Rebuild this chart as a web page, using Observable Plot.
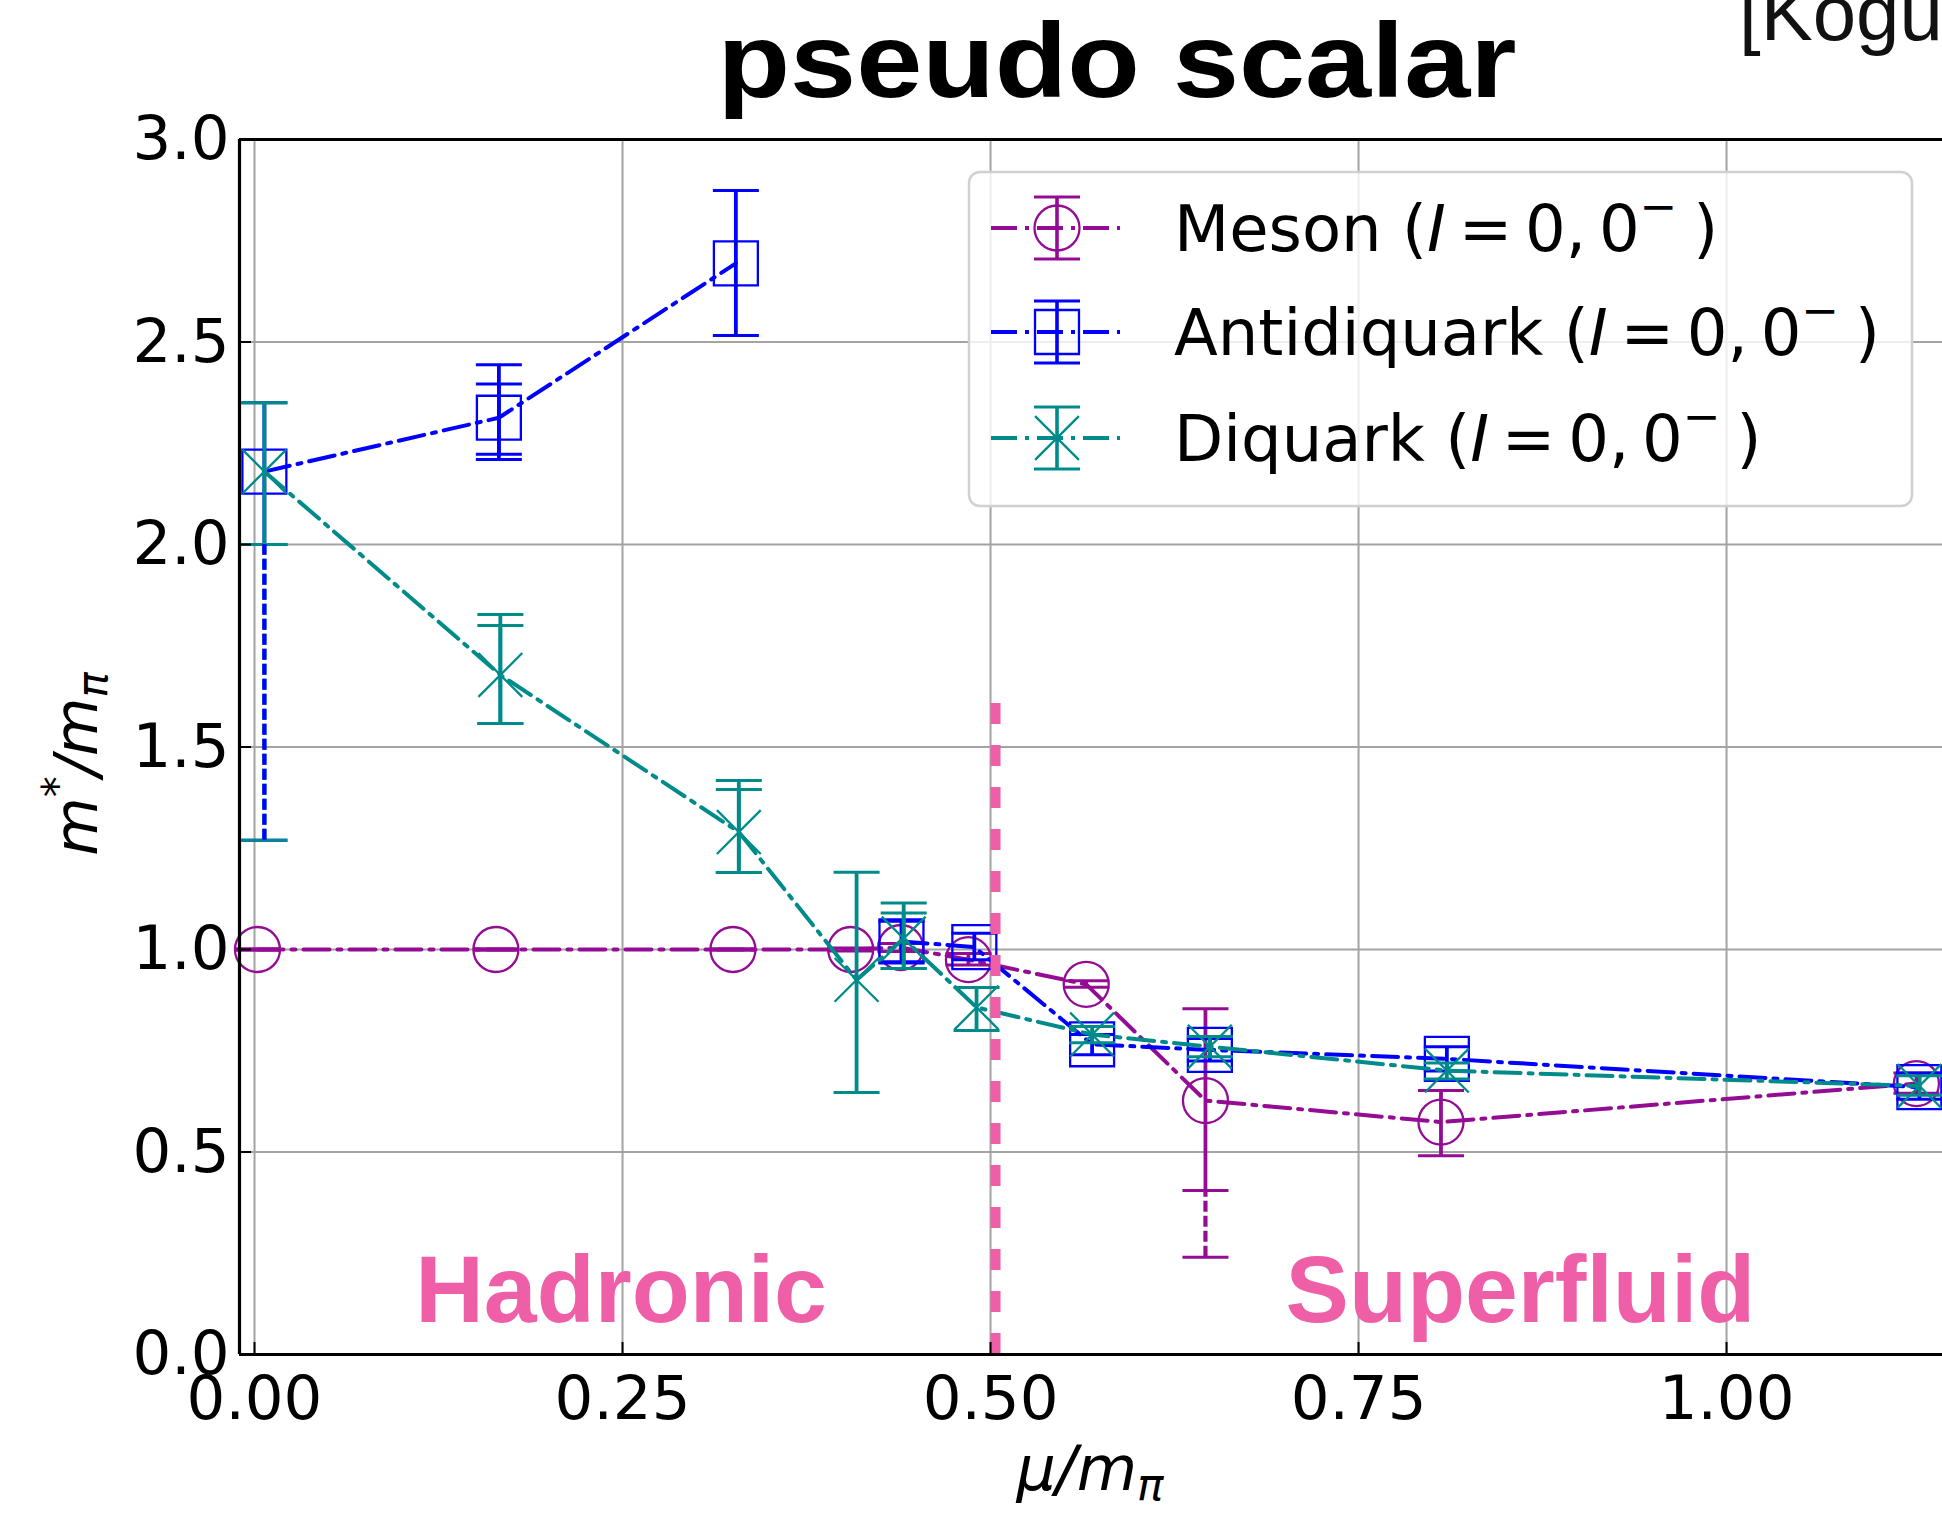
<!DOCTYPE html>
<html>
<head>
<meta charset="utf-8">
<script src="https://cdn.jsdelivr.net/npm/d3@7"></script>
<script src="https://cdn.jsdelivr.net/npm/@observablehq/plot@0.6"></script>
<style>
html, body { margin: 0; padding: 0; background: #fff; overflow: hidden; }
#wrap { position: relative; width: 1942px; height: 1513px; overflow: hidden; background: #fff; }
#wrap > svg { position: absolute; left: 0; top: 0; }
</style>
</head>
<body>
<div id="wrap"></div>
<script>
// ---------------- data ----------------
const xLimits = [-0.0102, 1.1467];
const yLimits = [0, 3];
const xTicks = [0, 0.25, 0.5, 0.75, 1.0];
const yTicks = [0, 0.5, 1.0, 1.5, 2.0, 2.5, 3.0];

// Meson (I=0, 0-)
const mesonMu    = [0.002, 0.164, 0.325, 0.405, 0.439, 0.485, 0.565, 0.646, 0.806, 1.129];
const mesonMass  = [1.000, 1.000, 1.000, 1.000, 1.005, 0.975, 0.914, 0.627, 0.574, 0.669];
const mesonLo    = [0.998, 0.998, 0.998, 0.996, 0.995, 0.962, 0.907, 0.405, 0.491, 0.645];
const mesonHi    = [1.002, 1.002, 1.002, 1.004, 1.015, 0.990, 0.923, 0.854, 0.652, 0.695];
const mesonLo2   = [null, null, null, null, null, null, null, null, null, null];
const mesonHi2   = [null, null, null, null, null, null, null, null, null, null];
const mesonSysLo = [null, null, null, null, null, null, null, 0.240, null, null];
const mesonSysHi = [null, null, null, null, null, null, null, 0.405, null, null];

// Antidiquark (I=0, 0-)
const antiMu    = [0.0067, 0.166, 0.327, 0.404, 0.4395, 0.489, 0.569, 0.649, 0.810, 1.131];
const antiMass  = [2.180, 2.313, 2.694, null, 1.020, 1.006, 0.766, 0.752, 0.730, 0.660];
const antiLo    = [2.000, 2.223, 2.516, null, 0.970, 0.975, 0.740, 0.725, 0.700, 0.630];
const antiHi    = [2.350, 2.396, 2.874, null, 1.070, 1.040, 0.790, 0.780, 0.760, 0.695];
const antiLo2   = [null, 2.210, null, null, null, null, null, null, null, null];
const antiHi2   = [null, 2.444, null, null, null, null, null, null, null, null];
const antiSysLo = [1.270, null, null, null, null, null, null, null, null, null];
const antiSysHi = [2.000, null, null, null, null, null, null, null, null, null];

// Diquark (I=0, 0-)
const diMu    = [0.0067, 0.167, 0.329, 0.409, 0.441, 0.4905, 0.569, 0.649, 0.810, 1.131];
const diMass  = [2.180, 1.678, 1.290, 0.925, 1.027, 0.857, 0.790, 0.760, 0.701, 0.663];
const diLo    = [2.000, 1.558, 1.190, 0.647, 0.953, 0.800, 0.770, 0.735, 0.680, 0.640];
const diHi    = [2.350, 1.800, 1.395, 1.191, 1.090, 0.906, 0.810, 0.785, 0.720, 0.688];
const diLo2   = [null, 1.558, 1.190, null, 0.953, null, null, null, null, null];
const diHi2   = [null, 1.827, 1.417, null, 1.115, null, null, null, null, null];
const diSysLo = [1.270, null, null, null, null, null, null, null, null, null];
const diSysHi = [2.000, null, null, null, null, null, null, null, null, null];

const seriesNames = ["Meson", "Antidiquark", "Diquark"];
const seriesColors = ["#940c94", "#0000ff", "#008b8b"];
const seriesSymbols = ["circle", "square", "times"];

// phase boundary and region labels
const boundaryMu = 0.5034;
const boundaryTop = 1.62;
const regionLabels = ["Hadronic", "Superfluid"];
const regionMu = [0.249, 0.860];
const regionY = [0.081, 0.081];

const titleText = "pseudo scalar";
const citeText = "[Kogut et al.]";

// ---------------- build tables ----------------
function table(name, mu, m, lo, hi, lo2, hi2, sLo, sHi) {
  return mu.map((x, i) => ({series: name, mu: x, m: m[i], lo: lo[i], hi: hi[i],
    lo2: lo2[i], hi2: hi2[i], sLo: sLo[i], sHi: sHi[i]}));
}
const tables = [
  table("Meson", mesonMu, mesonMass, mesonLo, mesonHi, mesonLo2, mesonHi2, mesonSysLo, mesonSysHi),
  table("Antidiquark", antiMu, antiMass, antiLo, antiHi, antiLo2, antiHi2, antiSysLo, antiSysHi),
  table("Diquark", diMu, diMass, diLo, diHi, diLo2, diHi2, diSysLo, diSysHi)
];

const capSymbol = {
  draw(context, size) {
    const w = Math.sqrt(size / Math.PI);
    context.moveTo(-w, 0);
    context.lineTo(w, 0);
  }
};
const symbolR = {circle: 22.5, square: 24.8, times: 20};
const lineDash = "26,8,4,8";
const lineWidth = 4;

function seriesMarks(rows, color, symbol) {
  const withErr = rows.filter(d => d.lo != null);
  const withErr2 = rows.filter(d => d.lo2 != null);
  const withSys = rows.filter(d => d.sLo != null);
  return [
    Plot.line(rows, {x: "mu", y: "m", stroke: color, strokeWidth: lineWidth, strokeDasharray: lineDash}),
    Plot.ruleX(withErr, {x: "mu", y1: "lo", y2: "hi", stroke: color, strokeWidth: 3.8}),
    Plot.ruleX(withErr2, {x: "mu", y1: "lo2", y2: "hi2", stroke: color, strokeWidth: 3.8}),
    Plot.dot(withErr, {x: "mu", y: "lo", symbol: capSymbol, r: 23, stroke: color, strokeWidth: 3, fill: "none"}),
    Plot.dot(withErr, {x: "mu", y: "hi", symbol: capSymbol, r: 23, stroke: color, strokeWidth: 3, fill: "none"}),
    Plot.dot(withErr2, {x: "mu", y: "lo2", symbol: capSymbol, r: 23, stroke: color, strokeWidth: 3, fill: "none"}),
    Plot.dot(withErr2, {x: "mu", y: "hi2", symbol: capSymbol, r: 23, stroke: color, strokeWidth: 3, fill: "none"}),
    Plot.dot(withSys, {x: "mu", y: "sLo", symbol: capSymbol, r: 23, stroke: color, strokeWidth: 3, fill: "none"}),
    Plot.dot(rows, {x: "mu", y: "m", symbol: symbol, r: symbolR[symbol], stroke: color, strokeWidth: 2.3, fill: "none"})
  ];
}
function sysMarks(rows, color) {
  const withSys = rows.filter(d => d.sLo != null);
  return Plot.ruleX(withSys, {x: "mu", y1: "sLo", y2: "sHi", stroke: color, strokeWidth: 4.2, strokeDasharray: "11,4"});
}

const pink = "#ef5fa7";
const gridColor = "#a3a3a3";

const chart = Plot.plot({
  width: 1942,
  height: 1513,
  marginLeft: 239,
  marginRight: 0,
  marginTop: 139,
  marginBottom: 159,
  x: {domain: xLimits, type: "linear"},
  y: {domain: yLimits, type: "linear"},
  style: {fontFamily: "DejaVu Sans", fontSize: "61px", color: "black", background: "transparent", overflow: "visible"},
  marks: [
    Plot.gridX(xTicks, {stroke: gridColor, strokeOpacity: 1, strokeWidth: 2}),
    Plot.gridY(yTicks, {stroke: gridColor, strokeOpacity: 1, strokeWidth: 2}),
    ...tables.flatMap((rows, i) => seriesMarks(rows, seriesColors[i], seriesSymbols[i])),
    sysMarks(tables[2], seriesColors[2]),
    sysMarks(tables[0], seriesColors[0]),
    sysMarks(tables[1], seriesColors[1]),
    Plot.ruleX([{mu: boundaryMu, y1: yLimits[0], y2: boundaryTop}], {x: "mu", y1: "y1", y2: "y2", stroke: pink, strokeWidth: 10, strokeDasharray: "21,21"}),
    Plot.text(regionLabels.map((t, i) => ({t, mu: regionMu[i], y: regionY[i]})), {
      x: "mu", y: "y", text: "t", textAnchor: "middle", lineAnchor: "bottom",
      fontSize: 95, fontWeight: "bold", fontFamily: "Liberation Sans", fill: pink
    }),
    Plot.axisX(xTicks, {tickFormat: d3.format(".2f"), tickSize: -12, tickPadding: 33, label: null, stroke: "black", strokeWidth: 2}),
    Plot.axisY(yTicks, {tickFormat: d3.format(".1f"), tickSize: -12, tickPadding: 22, label: null, stroke: "black", strokeWidth: 2}),
    Plot.ruleY(yLimits, {stroke: "black", strokeWidth: 3.2}),
    Plot.ruleX([xLimits[0]], {stroke: "black", strokeWidth: 3.2})
  ]
});
document.getElementById("wrap").appendChild(chart);

// ---------------- overlay: title, axis labels, legend ----------------
const ov = d3.select("#wrap").append("svg")
  .attr("width", 1942).attr("height", 1513)
  .style("pointer-events", "none");

ov.append("text")
  .attr("x", 1117).attr("y", 97)
  .attr("text-anchor", "middle")
  .attr("font-family", "Liberation Sans").attr("font-weight", "bold")
  .attr("font-size", 106)
  .attr("textLength", 799).attr("lengthAdjust", "spacingAndGlyphs")
  .text(titleText);

ov.append("text")
  .attr("x", 1739).attr("y", 40)
  .attr("font-family", "Liberation Sans").attr("font-size", 78)
  .attr("fill", "#111")
  .text(citeText);

// y label m*/m_pi
const yl = ov.append("g").attr("transform", "translate(97,764) rotate(-90)")
  .append("text").attr("text-anchor", "middle")
  .attr("font-family", "DejaVu Sans").attr("font-size", 60).attr("font-style", "italic");
yl.append("tspan").text("m");
yl.append("tspan").attr("dy", -25).attr("font-size", 42).attr("font-style", "normal").text("*");
yl.append("tspan").attr("dy", 25).text("/m");
yl.append("tspan").attr("dy", 10).attr("font-size", 42).text("π");

// x label mu/m_pi
const xl = ov.append("text").attr("x", 1090).attr("y", 1490).attr("text-anchor", "middle")
  .attr("font-family", "DejaVu Sans").attr("font-size", 62).attr("font-style", "italic");
xl.append("tspan").text("μ/m");
xl.append("tspan").attr("dy", 10).attr("font-size", 44).text("π");

// legend
const lg = ov.append("g").attr("transform", "translate(969,172)");
lg.append("rect").attr("width", 943).attr("height", 334).attr("rx", 11)
  .attr("fill", "white").attr("fill-opacity", 0.8)
  .attr("stroke", "#d0d0d0").attr("stroke-width", 2.5);
const rowY = [56, 160, 266];
const legendSymbols = {circle: d3.symbolCircle, square: d3.symbolSquare, times: d3.symbolTimes};
seriesNames.forEach((name, i) => {
  const c = seriesColors[i];
  const g = lg.append("g").attr("transform", `translate(0,${rowY[i]})`);
  g.append("line").attr("x1", 22).attr("x2", 151).attr("y1", 0).attr("y2", 0)
    .attr("stroke", c).attr("stroke-width", lineWidth).attr("stroke-dasharray", lineDash);
  g.append("line").attr("x1", 88).attr("x2", 88).attr("y1", -31).attr("y2", 31)
    .attr("stroke", c).attr("stroke-width", 3.6);
  [-31, 31].forEach(cy => g.append("line").attr("x1", 65).attr("x2", 111).attr("y1", cy).attr("y2", cy)
    .attr("stroke", c).attr("stroke-width", 3));
  const r = symbolR[seriesSymbols[i]];
  g.append("path").attr("transform", "translate(88,0)")
    .attr("d", d3.symbol(legendSymbols[seriesSymbols[i]], Math.PI * r * r)())
    .attr("fill", "none").attr("stroke", c).attr("stroke-width", 2.3);
  const t = g.append("text").attr("x", 205).attr("y", 23)
    .attr("font-family", "DejaVu Sans").attr("font-size", 64).attr("fill", "black");
  t.append("tspan").text(name + " (");
  t.append("tspan").attr("font-style", "italic").text("I");
  t.append("tspan").text("\u2009=\u20090,\u20090");
  t.append("tspan").attr("dy", -29).attr("font-size", 45).text("\u2212");
  t.append("tspan").attr("dy", 29).text("\u2005)");
});
</script>
</body>
</html>
